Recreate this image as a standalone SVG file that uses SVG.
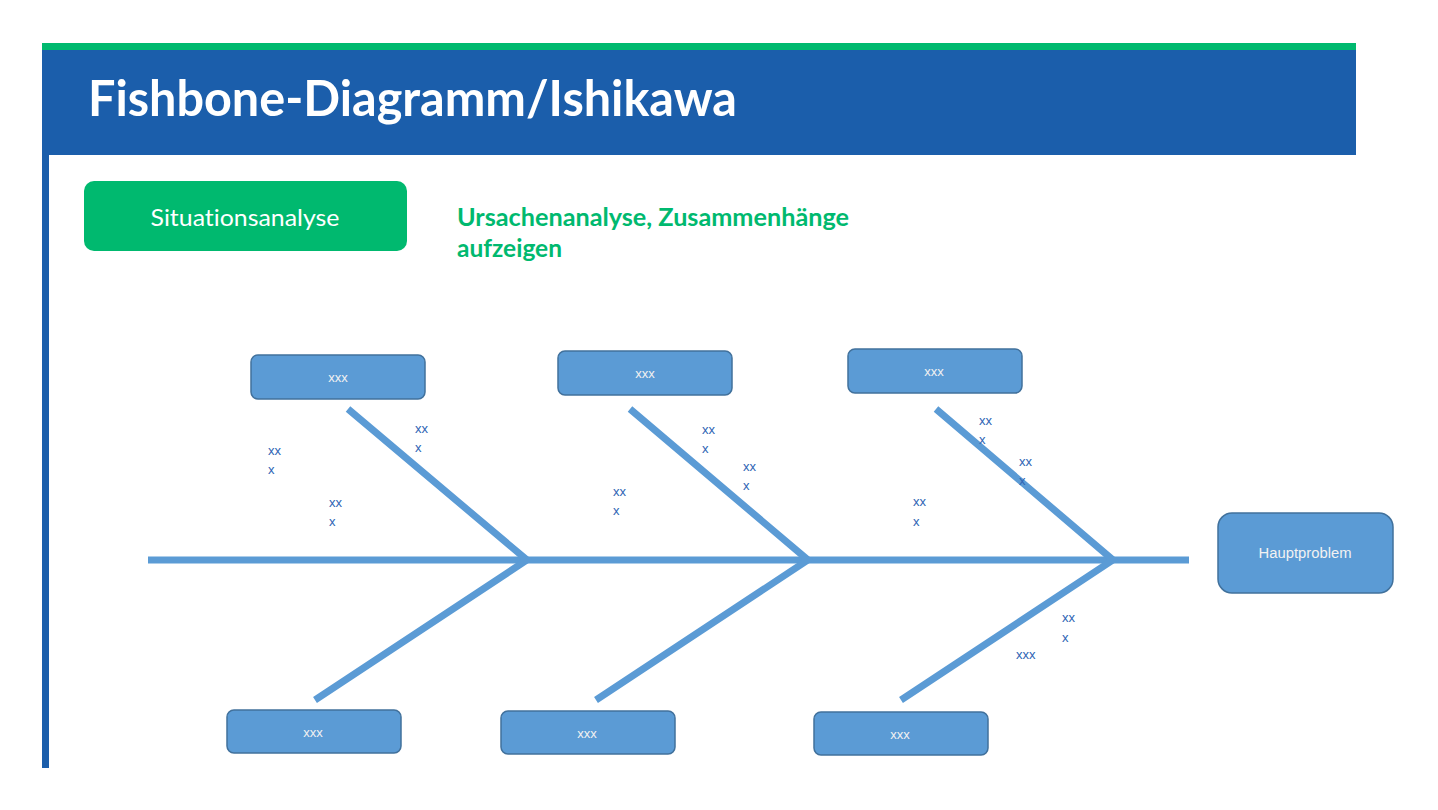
<svg xmlns="http://www.w3.org/2000/svg" width="1438" height="810" viewBox="0 0 1438 810">
  <style>
    text { font-variant-ligatures: none; }
    .box { fill: #5B9BD5; stroke: #41719C; stroke-width: 1.5; }
    .boxtxt { font-family: "Liberation Sans", Arial, sans-serif; font-size: 13px; fill: #F2F2F2; text-anchor: middle; }
    .lbl { font-family: "Liberation Sans", Arial, sans-serif; font-size: 13px; fill: #2E64B4; }
    .bone { stroke: #5B9BD5; stroke-width: 7; fill: none; stroke-linecap: butt; }
  </style>

  <rect width="1438" height="810" fill="#FFFFFF"/>

  <!-- header band -->
  <g id="header">
    <rect x="42" y="43" width="1314" height="7" fill="#00B96F"/>
    <rect x="42" y="50" width="1314" height="105" fill="#1B5EAB"/>
    <rect x="42" y="155" width="7" height="613" fill="#1B5EAB"/>
    <text x="88" y="116" font-family="Lato, 'Open Sans', sans-serif" font-weight="bold" font-size="50" fill="#FFFFFF" textLength="649" lengthAdjust="spacingAndGlyphs">Fishbone-Diagramm/Ishikawa</text>
  </g>

  <g id="situationsanalyse">
    <rect x="84" y="181" width="323" height="70" rx="10" fill="#00B96F"/>
    <text x="245" y="226" font-family="Lato, 'Open Sans', sans-serif" font-size="24" fill="#FFFFFF" text-anchor="middle" textLength="189" lengthAdjust="spacingAndGlyphs">Situationsanalyse</text>
  </g>

  <g id="subtitle" font-family="Lato, 'Open Sans', sans-serif" font-weight="bold" font-size="24" fill="#00B96F">
    <text x="457" y="226" textLength="392" lengthAdjust="spacingAndGlyphs">Ursachenanalyse, Zusammenhänge</text>
    <text x="457" y="257" textLength="105" lengthAdjust="spacingAndGlyphs">aufzeigen</text>
  </g>

  <!-- spine and bones -->
  <g id="connectors">
    <line class="bone" x1="148" y1="560" x2="1189" y2="560"/>
    <polyline class="bone" points="348,409 527,560 315,700"/>
    <polyline class="bone" points="630,409 808,560 596,700"/>
    <polyline class="bone" points="936,409 1113,560 901,700"/>
  </g>

  <!-- category boxes -->
  <g id="cat-top-1">
    <rect class="box" x="251" y="355" width="174" height="44" rx="7"/>
    <text class="boxtxt" x="338" y="382">xxx</text>
  </g>
  <g id="cat-top-2">
    <rect class="box" x="558" y="351" width="174" height="44" rx="7"/>
    <text class="boxtxt" x="645" y="378">xxx</text>
  </g>
  <g id="cat-top-3">
    <rect class="box" x="848" y="349" width="174" height="44" rx="7"/>
    <text class="boxtxt" x="934" y="376">xxx</text>
  </g>
  <g id="cat-bottom-1">
    <rect class="box" x="227" y="710" width="174" height="43" rx="7"/>
    <text class="boxtxt" x="313" y="737">xxx</text>
  </g>
  <g id="cat-bottom-2">
    <rect class="box" x="501" y="711" width="174" height="43" rx="7"/>
    <text class="boxtxt" x="587" y="738">xxx</text>
  </g>
  <g id="cat-bottom-3">
    <rect class="box" x="814" y="712" width="174" height="43" rx="7"/>
    <text class="boxtxt" x="900" y="739">xxx</text>
  </g>

  <g id="hauptproblem">
    <rect class="box" x="1218" y="513" width="175" height="80" rx="14"/>
    <text x="1305" y="558" font-family="Liberation Sans, Arial, sans-serif" font-size="14" fill="#F2F2F2" text-anchor="middle" textLength="93" lengthAdjust="spacingAndGlyphs">Hauptproblem</text>
  </g>

  <!-- cause labels -->
  <g id="causes">
    <text class="lbl" x="268" y="455">xx</text>
    <text class="lbl" x="268" y="474">x</text>
    <text class="lbl" x="415" y="433">xx</text>
    <text class="lbl" x="415" y="452">x</text>
    <text class="lbl" x="329" y="507">xx</text>
    <text class="lbl" x="329" y="526">x</text>

    <text class="lbl" x="702" y="434">xx</text>
    <text class="lbl" x="702" y="453">x</text>
    <text class="lbl" x="743" y="471">xx</text>
    <text class="lbl" x="743" y="490">x</text>
    <text class="lbl" x="613" y="496">xx</text>
    <text class="lbl" x="613" y="515">x</text>

    <text class="lbl" x="979" y="425">xx</text>
    <text class="lbl" x="979" y="444">x</text>
    <text class="lbl" x="1019" y="466">xx</text>
    <text class="lbl" x="1019" y="485">x</text>
    <text class="lbl" x="913" y="506">xx</text>
    <text class="lbl" x="913" y="526">x</text>

    <text class="lbl" x="1062" y="622">xx</text>
    <text class="lbl" x="1062" y="642">x</text>
    <text class="lbl" x="1016" y="659">xxx</text>
  </g>
</svg>
